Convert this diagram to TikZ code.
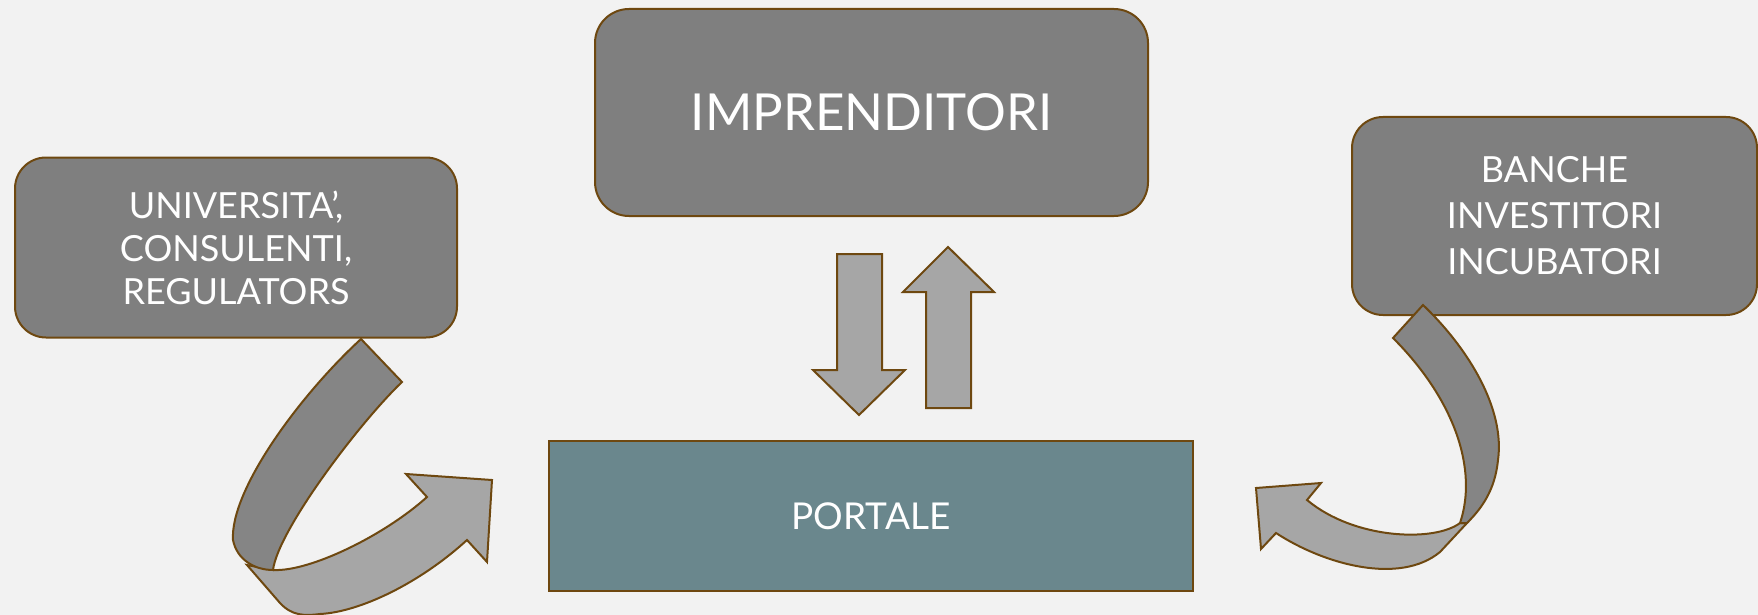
\documentclass[tikz,border=0pt]{standalone}
\usepackage{fontspec}
\setmainfont{Lato}
\usepackage{tikz}

\definecolor{sfondo}{RGB}{242,242,242}
\definecolor{bordo}{RGB}{110,72,16}
\definecolor{grigio}{RGB}{127,127,127}
\definecolor{scuro}{RGB}{133,133,133}
\definecolor{chiaro}{RGB}{166,166,166}
\definecolor{portale}{RGB}{106,135,141}

\begin{document}
\begin{tikzpicture}[x=1pt,y=-1pt,
    attore/.style={draw=bordo, line width=2pt, fill=grigio, text=white,
      rounded corners=31pt, align=center},
    frecciachiara/.style={draw=bordo, line width=2pt, fill=chiaro, line join=miter},
    frecciascura/.style={draw=bordo, line width=2pt, fill=scuro}]
  \fill[sfondo] (0,0) rectangle (1758,615);
  \useasboundingbox (0,0) rectangle (1758,615);

  \node[attore, minimum width=553pt, minimum height=207pt, rounded corners=34pt,
    font=\fontsize{51}{60}\selectfont] (impr) at (871.5,112.5) {IMPRENDITORI};
  \node[attore, minimum width=442pt, minimum height=180pt,
    font=\fontsize{36}{43}\selectfont] (univ) at (236,247.5)
    {UNIVERSITA’,\\CONSULENTI,\\REGULATORS};
  \node[attore, minimum width=405pt, minimum height=198pt,
    font=\fontsize{36}{46}\selectfont] (banche) at (1554.5,216)
    {BANCHE\\INVESTITORI\\INCUBATORI};
  \node[draw=bordo, line width=2pt, fill=portale, text=white,
    minimum width=644pt, minimum height=150pt,
    font=\fontsize{37}{44}\selectfont] (portale) at (871,516) {PORTALE};

  \draw[frecciachiara] (837,254) -- (882,254) -- (882,370) -- (905,370)
    -- (859,415) -- (813,370) -- (837,370) -- cycle;
  \draw[frecciachiara] (926,408) -- (971,408) -- (971,292) -- (994,292)
    -- (948,247) -- (903,292) -- (926,292) -- cycle;

  \draw[frecciachiara] (247,565) -- (280,603) .. controls (292,616) and (305,616) .. (320,614)
    .. controls (360,612) and (420,583) .. (467,540) -- (487,562) -- (492,480)
    -- (406,474) -- (427,497) .. controls (385,535) and (310,572) .. (273,570) -- cycle;
  \draw[frecciascura] (361,339) .. controls (300,395) and (230,490) .. (233,540)
    .. controls (237,560) and (255,570) .. (273,570)
    .. controls (278,530) and (360,422) .. (402,382) -- cycle;

  \draw[frecciachiara] (1460,523) .. controls (1435,542) and (1355,540) .. (1307,500)
    -- (1321,483) -- (1256,488) -- (1261,549) -- (1276,533)
    .. controls (1325,565) and (1400,585) .. (1440,552) -- (1467,523) -- cycle;
  \draw[frecciascura] (1423,305) .. controls (1470,350) and (1505,410) .. (1498,460)
    .. controls (1495,490) and (1482,508) .. (1467,523) -- (1460,523)
    .. controls (1478,470) and (1455,400) .. (1393,338) -- cycle;
\end{tikzpicture}
\end{document}
